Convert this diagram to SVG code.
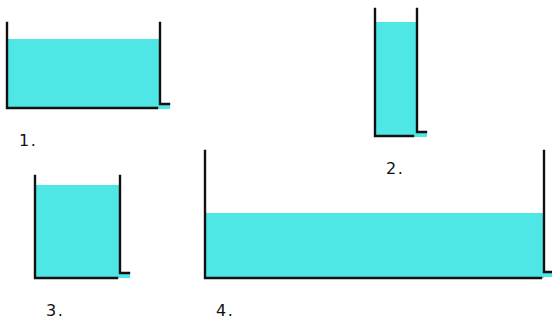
<svg xmlns="http://www.w3.org/2000/svg" width="552" height="320" viewBox="0 0 552 320">
<style>
.water{fill:#4fe6e6;stroke:none}
.wall{stroke:#111;stroke-width:2.4;fill:none;stroke-linecap:square}
.lbl{font-family:"DejaVu Sans",sans-serif;font-size:16px;letter-spacing:1.5px;fill:#111}
</style>
<rect width="552" height="320" fill="#fff"/>
<g id="tank1">
<rect class="water" x="7" y="39" width="153" height="69"/>
<rect class="water" x="157" y="104" width="13" height="5"/>
<path class="wall" d="M7,23 V108 H157 M160,23 V104 H169"/>
<text class="lbl" x="19" y="146">1.</text>
</g>
<g id="tank2">
<rect class="water" x="375" y="22" width="42" height="114"/>
<rect class="water" x="413" y="132" width="14" height="5"/>
<path class="wall" d="M375,9 V136 H413 M417,9 V132 H426"/>
<text class="lbl" x="386" y="174">2.</text>
</g>
<g id="tank3">
<rect class="water" x="35" y="185" width="85" height="93"/>
<rect class="water" x="117" y="273" width="13" height="5"/>
<path class="wall" d="M35,176 V278 H117 M120,176 V273 H129"/>
<text class="lbl" x="46" y="316">3.</text>
</g>
<g id="tank4">
<rect class="water" x="205" y="213" width="339" height="65"/>
<rect class="water" x="541" y="272" width="11" height="5"/>
<path class="wall" d="M205,151 V278 H541 M544,151 V272 H552"/>
<text class="lbl" x="216" y="316">4.</text>
</g>
</svg>
